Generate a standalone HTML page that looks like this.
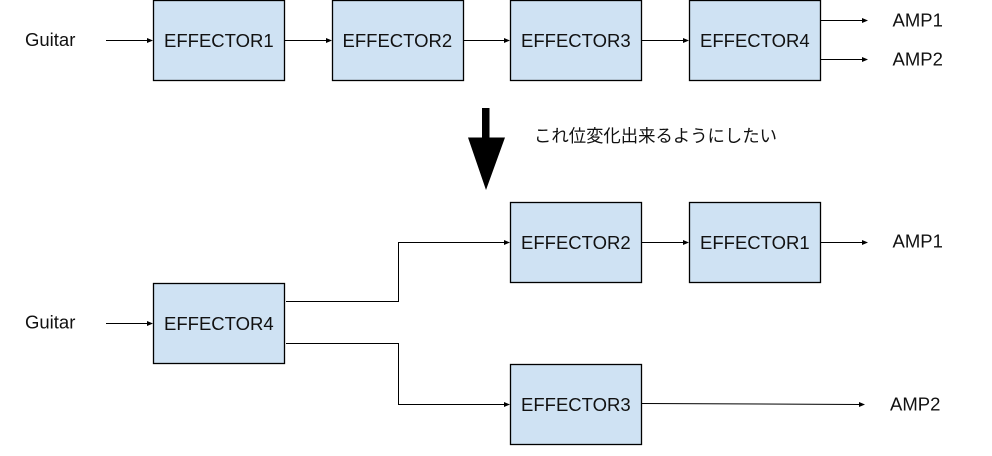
<!DOCTYPE html>
<html>
<head>
<meta charset="utf-8">
<style>
html,body{margin:0;padding:0;background:#fff;}
svg{display:block;}
text{font-family:"Liberation Sans","Noto Sans CJK JP",sans-serif;font-size:18.5px;fill:#111;}
rect{fill:#cfe2f3;stroke:#000;stroke-width:1.3;}
.l{fill:none;stroke:#000;stroke-width:1;}
</style>
</head>
<body>
<svg width="992" height="456" viewBox="0 0 992 456" xmlns="http://www.w3.org/2000/svg">
<rect x="153.5" y="0.5" width="131" height="80"/>
<rect x="332.5" y="0.5" width="131" height="80"/>
<rect x="510.5" y="0.5" width="131" height="80"/>
<rect x="689.5" y="0.5" width="131" height="80"/>
<rect x="510.5" y="202.500" width="131" height="80"/>
<rect x="689.5" y="202.500" width="131" height="80"/>
<rect x="153.5" y="283.500" width="131" height="80"/>
<rect x="510.5" y="364.500" width="131" height="80"/>

<text x="164" y="47">EFFECTOR1</text>
<text x="342.500" y="47">EFFECTOR2</text>
<text x="521" y="47">EFFECTOR3</text>
<text x="700" y="47">EFFECTOR4</text>
<text x="521" y="249">EFFECTOR2</text>
<text x="700" y="249">EFFECTOR1</text>
<text x="164" y="330">EFFECTOR4</text>
<text x="521" y="411">EFFECTOR3</text>

<text x="25" y="46">Guitar</text>
<text x="25" y="328.500">Guitar</text>
<text x="892.500" y="26.500">AMP1</text>
<text x="892.500" y="65.500">AMP2</text>
<text x="892.500" y="247.500">AMP1</text>
<text x="890" y="410.500">AMP2</text>
<text x="534" y="142" style="font-size:17.4px" textLength="243" lengthAdjust="spacingAndGlyphs">これ位変化出来るようにしたい</text>

<path class="l" d="M106 40.500H148"/><path d="M153 40.500l-6-2.500v5z"/>
<path class="l" d="M285 40.500H327"/><path d="M332 40.500l-6-2.500v5z"/>
<path class="l" d="M464 40.500H505"/><path d="M510 40.500l-6-2.500v5z"/>
<path class="l" d="M642 40.500H684"/><path d="M689 40.500l-6-2.500v5z"/>
<path class="l" d="M821 20.500H863"/><path d="M868 20.500l-6-2.500v5z"/>
<path class="l" d="M821 59.500H863"/><path d="M868 59.500l-6-2.500v5z"/>
<path class="l" d="M642 242.500H684"/><path d="M689 242.500l-6-2.500v5z"/>
<path class="l" d="M821 242.500H863"/><path d="M868 242.500l-6-2.500v5z"/>
<path class="l" d="M106 323.500H148"/><path d="M153 323.500l-6-2.500v5z"/>
<path class="l" d="M286 301.500H398.500V242.500H505"/><path d="M510 242.500l-6-2.500v5z"/>
<path class="l" d="M286 343.500H398.500V404.500H505"/><path d="M510 404.500l-6-2.500v5z"/>
<path class="l" d="M642 403.500L860 404.500"/><path d="M865 404.500l-6-2.500v5z"/>

<path d="M482 108H489.500V137.500H505L486 190L468 137.500H482Z" fill="#000"/>
</svg>
</body>
</html>
